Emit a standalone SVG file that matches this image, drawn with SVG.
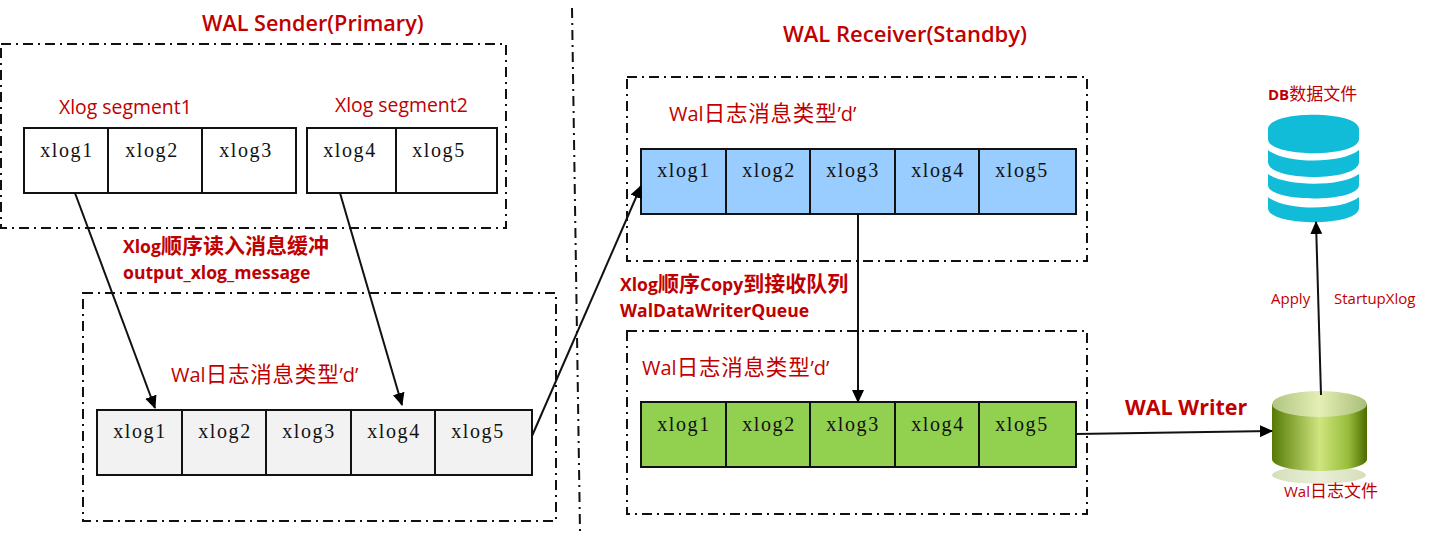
<svg xmlns="http://www.w3.org/2000/svg" width="1429" height="533" viewBox="0 0 1429 533">
<style>
.t{font-family:"Open Sans","Noto Sans CJK SC",sans-serif;fill:#c00000}
.h{font-size:22px;font-weight:600}
.b{font-size:17.6px;font-weight:700}
.m{font-size:19.4px}
.w{font-size:20px}
.c{font-size:21.500px;font-family:"Noto Sans CJK SC",sans-serif;font-weight:400;letter-spacing:.8px}
.cb{font-size:21px;font-family:"Noto Sans CJK SC",sans-serif;font-weight:700}
.s{font-size:15px}
.cs{font-size:17px;font-family:"Noto Sans CJK SC",sans-serif;font-weight:400}
.x{font-family:"Liberation Serif","DejaVu Serif",serif;font-size:20px;fill:#111;text-anchor:middle;letter-spacing:1.600px}
.dash{fill:none;stroke:#111;stroke-width:2;stroke-dasharray:10 5 2 5}
.cell{stroke:#111;stroke-width:2}
.conn{fill:none;stroke:#111;stroke-width:2;marker-end:url(#a)}
</style>
<defs>
<marker id="a" markerWidth="13" markerHeight="12" refX="12" refY="6" orient="auto" markerUnits="userSpaceOnUse"><path d="M0 0L13 6L0 12z" fill="#000"/></marker>
<linearGradient id="cyl"><stop offset="0" stop-color="#567a05"/><stop offset=".5" stop-color="#cfe57f"/><stop offset=".8" stop-color="#98bd3b"/><stop offset="1" stop-color="#4d6b00"/></linearGradient>
<linearGradient id="top"><stop offset="0" stop-color="#b0c480"/><stop offset=".5" stop-color="#e4efb5"/><stop offset="1" stop-color="#a9bd78"/></linearGradient>
<linearGradient id="sh"><stop offset="0" stop-color="#d4dfb8"/><stop offset=".5" stop-color="#e9efd9"/><stop offset="1" stop-color="#d4dfb8"/></linearGradient>
</defs>
<g id="dividers"><path d="M572 8L580 531" class="dash"/></g>
<g id="titles">
<text class="t h" x="202" y="31" style="font-size:21.600px">WAL Sender(Primary)</text>
<text class="t h" x="783" y="42">WAL Receiver(Standby)</text>
<text class="t h" x="1125" y="415" style="font-weight:700;font-size:21.500px">WAL Writer</text>
</g>
<g id="sender">
<rect class="dash" x="1" y="44" width="505" height="184"/>
<text class="t m" x="59" y="114">Xlog segment1</text>
<text class="t m" x="335" y="112">Xlog segment2</text>
<path class="cell" fill="#fff" d="M24 128H296V193H24zM108 128V193M202 128V193"/>
<path class="cell" fill="#fff" d="M307 128H497V193H307zM396 128V193"/>
<text class="x" x="67" y="157">xlog1</text><text class="x" x="152" y="157">xlog2</text><text class="x" x="246" y="157">xlog3</text><text class="x" x="350" y="157">xlog4</text><text class="x" x="439" y="157">xlog5</text>
</g>
<g id="sender-label">
<text class="t b" x="123" y="253">Xlog<tspan class="cb">顺序读入消息缓冲</tspan></text>
<text class="t b" x="123" y="279">output_xlog_message</text>
</g>
<g id="send-buffer">
<rect class="dash" x="83" y="293" width="473" height="228"/>
<text class="t w" x="171" y="382">Wal<tspan class="c">日志消息类型</tspan>’d’</text>
<path class="cell" fill="#f2f2f2" d="M97 410H532V475H97zM182 410V475M266 410V475M351 410V475M435 410V475"/>
<text class="x" x="140" y="438">xlog1</text><text class="x" x="225" y="438">xlog2</text><text class="x" x="309" y="438">xlog3</text><text class="x" x="394" y="438">xlog4</text><text class="x" x="478" y="438">xlog5</text>
</g>
<g id="receive-queue">
<rect class="dash" x="627" y="77" width="460" height="184"/>
<text class="t w" x="669" y="121">Wal<tspan class="c">日志消息类型</tspan>’d’</text>
<path class="cell" fill="#99ccff" d="M641 149H1076V214H641zM726 149V214M810 149V214M895 149V214M979 149V214"/>
<text class="x" x="684" y="177">xlog1</text><text class="x" x="769" y="177">xlog2</text><text class="x" x="853" y="177">xlog3</text><text class="x" x="938" y="177">xlog4</text><text class="x" x="1022" y="177">xlog5</text>
</g>
<g id="receiver-label">
<text class="t b" x="620" y="291">Xlog<tspan class="cb">顺序</tspan>Copy<tspan class="cb">到接收队列</tspan></text>
<text class="t b" x="620" y="317">WalDataWriterQueue</text>
</g>
<g id="write-queue">
<rect class="dash" x="627" y="331" width="460" height="183"/>
<text class="t w" x="642" y="375">Wal<tspan class="c">日志消息类型</tspan>’d’</text>
<path class="cell" fill="#92d050" d="M641 402H1076V467H641zM726 402V467M810 402V467M895 402V467M979 402V467"/>
<text class="x" x="684" y="431">xlog1</text><text class="x" x="769" y="431">xlog2</text><text class="x" x="853" y="431">xlog3</text><text class="x" x="938" y="431">xlog4</text><text class="x" x="1022" y="431">xlog5</text>
</g>
<g id="db-file">
<text class="t s" x="1268" y="100" style="font-weight:700">DB<tspan class="cs">数据文件</tspan></text>
<path fill="#10bcd8" d="M1268 129C1268 110 1359 110 1359 129V139C1359 158 1268 158 1268 139zM1268 150C1285 164 1342 164 1359 150V162C1359 182 1268 182 1268 162zM1268 174C1285 187 1342 187 1359 174V185C1359 203 1268 203 1268 185zM1268 197C1285 211 1342 211 1359 197V208C1359 227 1268 227 1268 208z"/>
</g>
<g id="wal-file">
<ellipse cx="1319" cy="475" rx="47" ry="8.700" fill="url(#sh)"/>
<path d="M1272 404V459C1272 475 1367 475 1367 459V404z" fill="url(#cyl)"/>
<ellipse cx="1319.500" cy="404" rx="47.500" ry="13" fill="url(#top)"/>
<text class="t s" x="1284" y="497">Wal<tspan class="cs">日志文件</tspan></text>
</g>
<g id="apply-labels">
<text class="t s" x="1271" y="304">Apply</text>
<text class="t s" x="1334" y="304">StartupXlog</text>
</g>
<g id="connectors">
<path class="conn" d="M75 193L155 408"/>
<path class="conn" d="M340 193L402 405"/>
<path class="conn" d="M532 436L641 186"/>
<path class="conn" d="M858 214V402"/>
<path class="conn" d="M1076 434L1272 431"/>
<path class="conn" d="M1321 395L1316 222"/>
</g>
</svg>
